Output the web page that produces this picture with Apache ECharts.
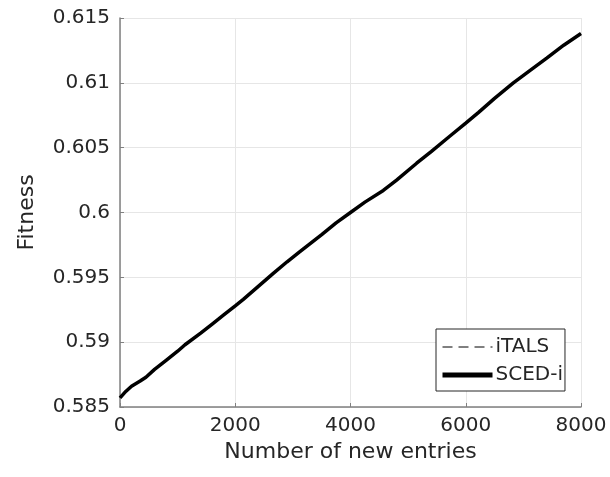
<!DOCTYPE html>
<html>
<head>
<meta charset="utf-8">
<script src="https://cdn.jsdelivr.net/npm/echarts@6/dist/echarts.min.js"></script>
<style>html,body{margin:0;padding:0;background:#fff;}#c{width:610px;height:477px;}</style>
</head>
<body>
<div id="c"></div>
<script>
var entries = [0,100,200,350,450,600,800,1000,1128,1400,1600,1800,2000,2140,2400,2660,2900,3100,3300,3500,3750,4000,4250,4569,4800,5148,5400,5727,6000,6218,6500,6826,7100,7405,7700,8000];
var fitnessITALS = [0.5857,0.5862,0.5866,0.5870,0.5873,0.5879,0.5886,0.5893,0.5898,0.5907,0.5914,0.5921,0.5928,0.5933,0.5943,0.5953,0.5962,0.5969,0.5976,0.5983,0.5992,0.6000,0.6008,0.6017,0.6025,0.6038,0.6047,0.6059,0.6069,0.6077,0.6088,0.6100,0.6109,0.6119,0.6129,0.6138];
var fitnessSCED = [0.5857,0.5862,0.5866,0.5870,0.5873,0.5879,0.5886,0.5893,0.5898,0.5907,0.5914,0.5921,0.5928,0.5933,0.5943,0.5953,0.5962,0.5969,0.5976,0.5983,0.5992,0.6000,0.6008,0.6017,0.6025,0.6038,0.6047,0.6059,0.6069,0.6077,0.6088,0.6100,0.6109,0.6119,0.6129,0.6138];
var seriesNames = ['iTALS','SCED-i'];

function pairs(xs, ys){ return xs.map(function(x,i){ return [x, ys[i]]; }); }

var font = 'DejaVu Sans, sans-serif';
var chart = echarts.init(document.getElementById('c'));
chart.setOption({
  animation: false,
  backgroundColor: '#fff',
  grid: {left: 120, right: 29, top: 18, bottom: 70},
  xAxis: {
    type: 'value', min: 0, max: 8000, interval: 2000,
    name: 'Number of new entries', nameLocation: 'middle', nameGap: 34,
    nameTextStyle: {fontFamily: font, fontSize: 22, color: '#262626'},
    axisLine: {show: true, lineStyle: {color: '#808080', width: 1.5}},
    axisTick: {show: true, inside: true, length: 4, lineStyle: {color: '#808080'}},
    axisLabel: {fontFamily: font, fontSize: 20, color: '#262626', margin: 9,
      formatter: function(v){ return String(v); }},
    splitLine: {show: true, lineStyle: {color: '#e6e6e6', width: 1}}
  },
  yAxis: {
    type: 'value', min: 0.585, max: 0.615, interval: 0.005,
    name: 'Fitness', nameLocation: 'middle', nameGap: 82,
    nameTextStyle: {fontFamily: font, fontSize: 22, color: '#262626'},
    axisLine: {show: true, lineStyle: {color: '#808080', width: 1.5}},
    axisTick: {show: true, inside: true, length: 4, lineStyle: {color: '#808080'}},
    axisLabel: {fontFamily: font, fontSize: 20, color: '#262626', margin: 10,
      formatter: function(v){ return String(parseFloat(v.toFixed(3))); }},
    splitLine: {show: true, lineStyle: {color: '#e6e6e6', width: 1}}
  },
  legend: {
    orient: 'vertical', left: 436, top: 329,
    padding: [8, 2, 6, 4], itemGap: 8, itemWidth: 50, itemHeight: 20,
    borderColor: '#262626', borderWidth: 1, backgroundColor: '#fff',
    textStyle: {fontFamily: font, fontSize: 20, color: '#262626', padding: [0,0,0,-2]},
    itemStyle: {opacity: 0},
    data: [
      {name: seriesNames[0], lineStyle: {width: 1, type: [10, 6], color: '#000'}},
      {name: seriesNames[1], lineStyle: {width: 5, color: '#000'}}
    ]
  },
  series: [
    {name: seriesNames[0], type: 'line', data: pairs(entries, fitnessITALS), symbol: 'none',
     lineStyle: {color: '#000', width: 1, type: [9, 6]}, itemStyle: {color: '#000'}},
    {name: seriesNames[1], type: 'line', data: pairs(entries, fitnessSCED), symbol: 'none',
     lineStyle: {color: '#000', width: 3.5}, itemStyle: {color: '#000'}}
  ]
});
</script>
</body>
</html>
